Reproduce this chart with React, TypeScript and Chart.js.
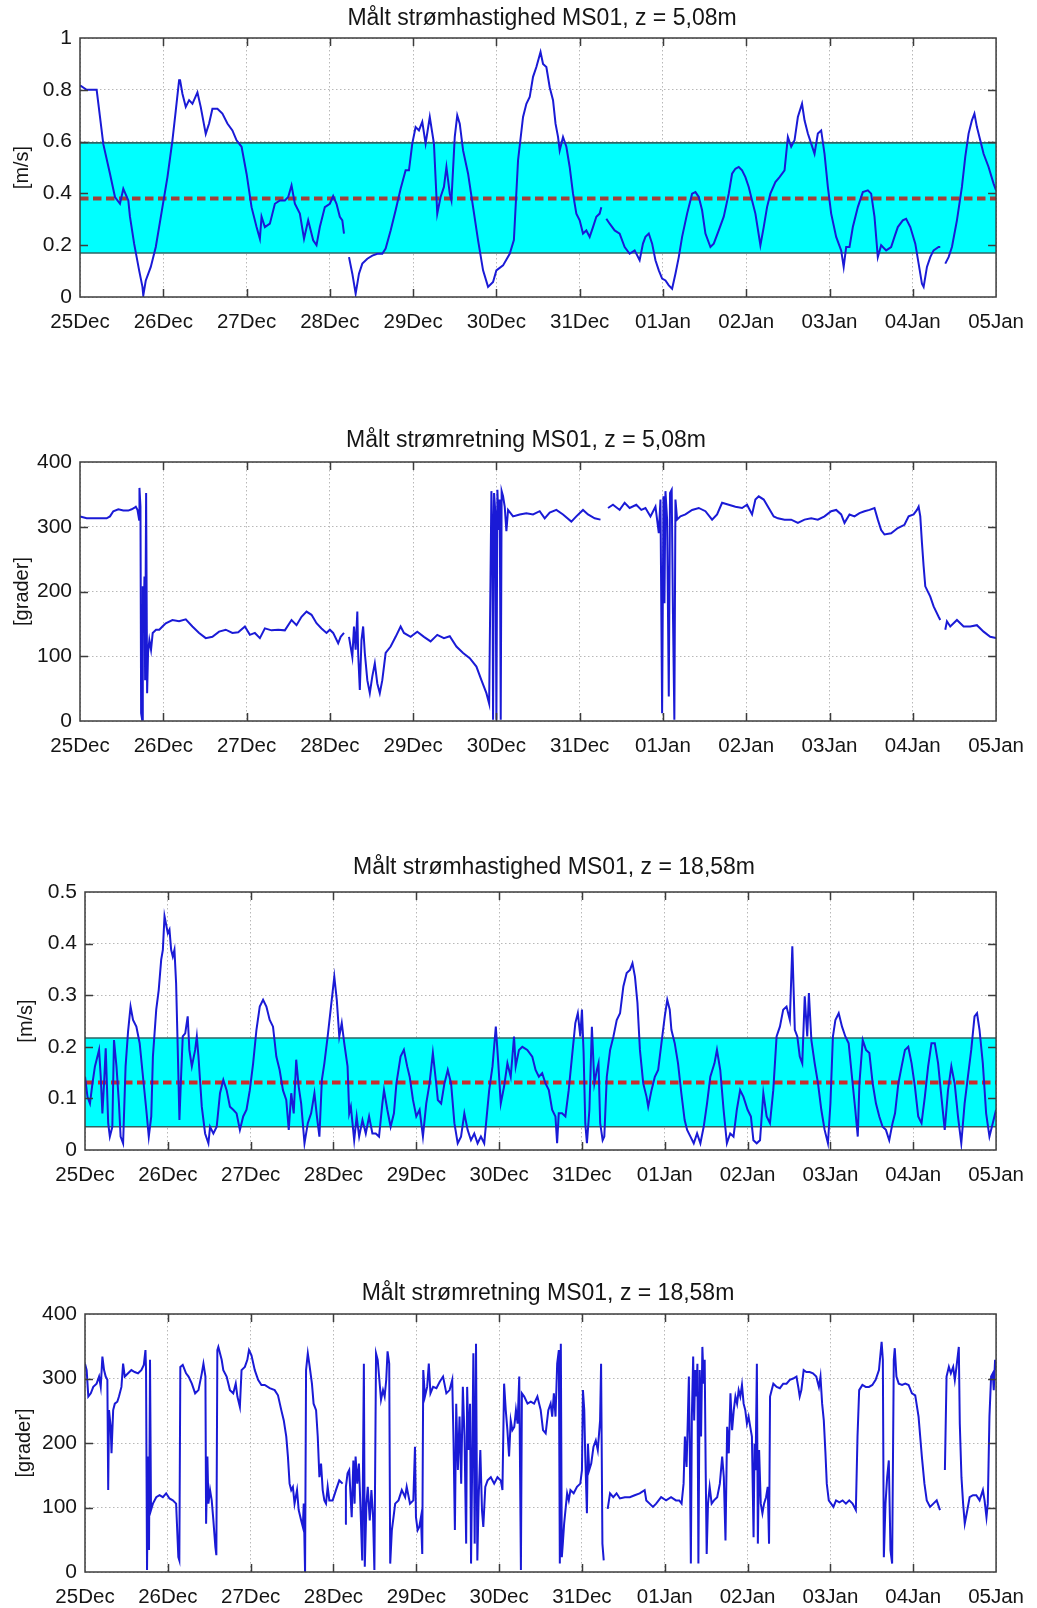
import React, { useEffect, useRef } from "react";
import { Chart, registerables } from "chart.js";

Chart.register(...registerables);

const FONT = '"Liberation Sans", Arial, Helvetica, sans-serif';

const dayLabels = ["25Dec", "26Dec", "27Dec", "28Dec", "29Dec", "30Dec", "31Dec", "01Jan", "02Jan", "03Jan", "04Jan", "05Jan"];

// ---------- Panel 1: speed, z = 5,08m ----------
const title1 = "Målt strømhastighed MS01, z = 5,08m";
const speedTopDays = [
  0, 0.08, 0.2, 0.24, 0.28, 0.36, 0.42, 0.48, 0.52, 0.58, 0.6, 0.65, 0.71, 0.75, 0.76, 0.79, 0.85, 0.91, 0.99,
  1.05, 1.11, 1.15, 1.19, 1.2, 1.23, 1.27, 1.31, 1.35, 1.41, 1.45, 1.51, 1.55, 1.59, 1.65, 1.71, 1.77, 1.83, 1.88, 1.94,
  2.0, 2.06, 2.12, 2.16, 2.18, 2.22, 2.28, 2.34, 2.4, 2.46, 2.5, 2.54, 2.58, 2.64, 2.69, 2.74, 2.8, 2.84, 2.88, 2.94,
  3.0, 3.04, 3.08, 3.12, 3.15, 3.17, 3.2, 3.23, 3.27, 3.31, 3.35, 3.39, 3.45, 3.51, 3.57, 3.63, 3.67, 3.73, 3.79, 3.85, 3.91, 3.95, 3.99,
  4.03, 4.07, 4.11, 4.15, 4.2, 4.25, 4.29, 4.33, 4.37, 4.4, 4.44, 4.46, 4.5, 4.53, 4.56, 4.6, 4.66, 4.72, 4.78, 4.84, 4.9, 4.96,
  5.0, 5.08, 5.16, 5.21, 5.26, 5.32, 5.36, 5.4, 5.44, 5.48, 5.53, 5.56, 5.6, 5.64, 5.68, 5.71, 5.74, 5.76, 5.8, 5.84, 5.88, 5.92, 5.96,
  6.0, 6.04, 6.08, 6.12, 6.16, 6.2, 6.24, 6.26, 6.29, 6.32, 6.36, 6.42, 6.48, 6.54, 6.6, 6.66, 6.72, 6.76, 6.79, 6.83, 6.87, 6.91, 6.95, 6.99,
  7.03, 7.07, 7.11, 7.15, 7.19, 7.23, 7.29, 7.35, 7.39, 7.43, 7.47, 7.51, 7.57, 7.61, 7.67, 7.73, 7.79, 7.83, 7.87, 7.91, 7.95, 7.99,
  8.03, 8.07, 8.11, 8.17, 8.21, 8.25, 8.29, 8.35, 8.4, 8.46, 8.5, 8.54, 8.58, 8.62, 8.67, 8.7, 8.74, 8.78, 8.82, 8.86, 8.9, 8.94, 8.98,
  9.02, 9.08, 9.14, 9.17, 9.2, 9.24, 9.28, 9.34, 9.4, 9.46, 9.5, 9.54, 9.58, 9.62, 9.68, 9.74, 9.78, 9.82, 9.88, 9.92, 9.97,
  10.03, 10.07, 10.11, 10.13, 10.17, 10.21, 10.25, 10.31, 10.33, 10.36, 10.39, 10.43, 10.47, 10.53, 10.59, 10.63, 10.67, 10.71, 10.74, 10.77, 10.81, 10.85, 10.91, 10.97, 11.0,
];
const speedTopVals = [
  0.817, 0.8, 0.8, 0.695, 0.59, 0.476, 0.386, 0.36, 0.418, 0.373, 0.31, 0.206, 0.103, 0.039, 0.006, 0.064, 0.116, 0.193, 0.347,
  0.463, 0.605, 0.72, 0.837, 0.84, 0.785, 0.734, 0.76, 0.746, 0.79, 0.733, 0.63, 0.67, 0.727, 0.727, 0.708, 0.67, 0.643, 0.605, 0.58,
  0.476, 0.347, 0.27, 0.225, 0.31, 0.27, 0.283, 0.36, 0.373, 0.373, 0.386, 0.431, 0.36, 0.322, 0.225, 0.296, 0.219, 0.2, 0.27, 0.347,
  0.36, 0.39, 0.36, 0.31, 0.296, 0.245, null, 0.154, 0.09, 0.013, 0.09, 0.129, 0.148, 0.16, 0.167, 0.167, 0.187, 0.257, 0.335, 0.418, 0.489, 0.489, 0.592,
  0.656, 0.643, 0.676, 0.592, 0.695, 0.592, 0.322, 0.386, 0.425, 0.502, 0.399, 0.373, 0.618, 0.701, 0.669, 0.566, 0.476, 0.347, 0.219, 0.103, 0.039, 0.058,
  0.103, 0.122, 0.167, 0.22, 0.528, 0.695, 0.746, 0.772, 0.85, 0.888, 0.946, 0.9, 0.888, 0.81, 0.76, 0.669, 0.618, 0.566, 0.618, 0.58, 0.502, 0.399, 0.322,
  0.296, 0.245, 0.257, 0.232, 0.27, 0.31, 0.322, 0.347, null, 0.302, 0.283, 0.257, 0.245, 0.193, 0.167, 0.18, 0.142, 0.206, 0.232, 0.245, 0.206, 0.142, 0.103, 0.071,
  0.064, 0.045, 0.032, 0.09, 0.154, 0.232, 0.322, 0.399, 0.405, 0.386, 0.335, 0.245, 0.193, 0.206, 0.257, 0.31, 0.399, 0.476, 0.495, 0.502, 0.489, 0.463,
  0.425, 0.373, 0.322, 0.2, 0.27, 0.347, 0.399, 0.444, 0.463, 0.489, 0.618, 0.58, 0.605, 0.695, 0.746, 0.682, 0.631, 0.592, 0.553, 0.631, 0.643, 0.553, 0.425,
  0.322, 0.232, 0.18, 0.116, 0.193, 0.193, 0.27, 0.347, 0.405, 0.412, 0.399, 0.31, 0.154, 0.2, 0.18, 0.193, 0.232, 0.27, 0.296, 0.302, 0.27,
  0.206, 0.129, 0.051, 0.039, 0.116, 0.154, 0.18, 0.193, 0.193, null, 0.129, 0.154, 0.193, 0.296, 0.425, 0.541, 0.631, 0.682, 0.708, 0.656, 0.605, 0.553, 0.502, 0.438, 0.412,
];
const speedTopBand = [0.17, 0.595];
const speedTopMean = 0.38;

// ---------- Panel 2: direction, z = 5,08m ----------
const title2 = "Målt strømretning MS01, z = 5,08m";
const dirTopDays = [
  0, 0.08, 0.2, 0.32, 0.36, 0.4, 0.46, 0.52, 0.58, 0.62, 0.65, 0.67, 0.69, 0.71, 0.714, 0.726, 0.734, 0.746, 0.754, 0.766, 0.774, 0.782, 0.794, 0.806, 0.817, 0.833, 0.853, 0.873, 0.913, 0.952, 0.99,
  1.03, 1.11, 1.19, 1.27, 1.35, 1.43, 1.51, 1.59, 1.67, 1.75, 1.83, 1.9, 1.98, 2.04, 2.1, 2.16, 2.22, 2.3, 2.38, 2.46, 2.54, 2.6, 2.66, 2.72, 2.78, 2.84, 2.9, 2.96,
  3.0, 3.04, 3.1, 3.13, 3.17, 3.2, 3.23, 3.27, 3.29, 3.31, 3.33, 3.34, 3.36, 3.38, 3.4, 3.42, 3.45, 3.48, 3.51, 3.54, 3.57, 3.6, 3.63, 3.67, 3.73, 3.79, 3.85, 3.89, 3.97,
  4.05, 4.13, 4.21, 4.29, 4.37, 4.44, 4.52, 4.6, 4.68, 4.76, 4.82, 4.88, 4.913, 4.929, 4.94, 4.952, 4.96, 4.972, 4.988,
  5.0, 5.012, 5.028, 5.04, 5.052, 5.063, 5.08, 5.1, 5.12, 5.14, 5.2, 5.28, 5.36, 5.44, 5.52, 5.58, 5.64, 5.72, 5.8, 5.9, 5.96,
  6.04, 6.1, 6.18, 6.25, 6.3, 6.34, 6.4, 6.48, 6.54, 6.6, 6.68, 6.74, 6.79, 6.85, 6.91, 6.95, 6.97, 6.99,
  7.006, 7.018, 7.03, 7.05, 7.07, 7.085, 7.105, 7.12, 7.137, 7.15, 7.17, 7.21, 7.27, 7.35, 7.43, 7.51, 7.59, 7.65, 7.71, 7.79, 7.87, 7.95,
  8.01, 8.07, 8.11, 8.15, 8.21, 8.27, 8.33, 8.38, 8.46, 8.54, 8.62, 8.7, 8.78, 8.86, 8.94,
  9.02, 9.08, 9.14, 9.18, 9.24, 9.3, 9.36, 9.42, 9.48, 9.54, 9.58, 9.62, 9.66, 9.74, 9.82, 9.9, 9.95,
  10.01, 10.05, 10.07, 10.09, 10.11, 10.13, 10.15, 10.21, 10.25, 10.31, 10.33, 10.36, 10.39, 10.41, 10.45, 10.53, 10.61, 10.69, 10.77, 10.85, 10.93, 11.0,
];
const dirTopVals = [
  316, 313, 313, 313, 316, 324, 327, 325, 325, 327, 329, 331, 326, 311, 360, 331, 12, 2, 208, 156, 223, 63, 352, 43, 105, 125, 110, 136, 141, 141, 146,
  151, 156, 154, 157, 146, 136, 128, 130, 138, 141, 136, 137, 146, 133, 136, 128, 143, 140, 141, 140, 156, 148, 161, 169, 164, 151, 143, 136,
  141, 136, 120, 130, 136, null, 130, 99, 146, 110, 169, 105, 48, 125, 146, 105, 63, 43, 69, 89, 58, 43, 63, 105, 115, 130, 146, 136, 130,
  138, 130, 123, 133, 128, 131, 115, 105, 97, 84, 63, 43, 27, 218, 355, 290, 2, 352, 321,
  2, 357, 295, 342, 2, 355, 347, 331, 293, 326, 316, 319, 321, 319, 324, 313, 322, 326, 319, 308, 316,
  326, 319, 313, 311, null, 329, 334, 326, 337, 329, 334, 326, 329, 316, 331, 290, 342, 12,
  347, 182, 355, 311, 38, 352, 357, 167, 2, 342, 311, 316, 319, 326, 329, 324, 311, 319, 337, 334, 331, 329,
  334, 319, 342, 347, 342, 329, 316, 313, 311, 311, 306, 311, 313, 311, 316,
  324, 326, 319, 306, 319, 316, 321, 324, 326, 329, 311, 295, 288, 290, 298, 303, 316,
  319, 326, 331, 316, 275, 239, 208, 192, 177, 161, 156, null, 141, 154, 146, 156, 146, 146, 148, 138, 130, 128,
];

// ---------- Panel 3: speed, z = 18,58m ----------
const title3 = "Målt strømhastighed MS01, z = 18,58m";
const speedBotDays = [
  0, 0.03, 0.06, 0.09, 0.12, 0.15, 0.17, 0.19, 0.21, 0.23, 0.25, 0.28, 0.3, 0.33, 0.35, 0.38, 0.41, 0.43, 0.46, 0.49, 0.52, 0.55, 0.58, 0.62, 0.66, 0.7, 0.74, 0.77, 0.8, 0.82, 0.86, 0.89, 0.92, 0.94, 0.96,
  1.0, 1.02, 1.04, 1.06, 1.08, 1.1, 1.12, 1.14, 1.16, 1.18, 1.21, 1.24, 1.26, 1.29, 1.33, 1.35, 1.37, 1.41, 1.45, 1.49, 1.51, 1.55, 1.59, 1.63, 1.67, 1.71, 1.75, 1.79, 1.83, 1.87, 1.91, 1.95, 1.99,
  2.03, 2.07, 2.11, 2.15, 2.19, 2.23, 2.27, 2.31, 2.35, 2.39, 2.43, 2.46, 2.49, 2.52, 2.55, 2.58, 2.61, 2.65, 2.69, 2.73, 2.77, 2.8, 2.83, 2.86, 2.89, 2.93, 2.97,
  3.01, 3.04, 3.07, 3.1, 3.13, 3.17, 3.19, 3.21, 3.25, 3.28, 3.31, 3.35, 3.39, 3.43, 3.47, 3.51, 3.55, 3.59, 3.61, 3.65, 3.69, 3.73, 3.76, 3.81, 3.85, 3.89, 3.92, 3.96,
  4.0, 4.04, 4.08, 4.12, 4.16, 4.2, 4.24, 4.26, 4.3, 4.34, 4.38, 4.42, 4.46, 4.5, 4.54, 4.58, 4.62, 4.66, 4.7, 4.74, 4.78, 4.82, 4.85, 4.88, 4.92, 4.96, 4.99,
  5.02, 5.06, 5.1, 5.14, 5.18, 5.2, 5.24, 5.28, 5.34, 5.4, 5.44, 5.48, 5.52, 5.56, 5.6, 5.64, 5.68, 5.7, 5.72, 5.76, 5.8, 5.84, 5.88, 5.92, 5.95, 5.98,
  6.0, 6.02, 6.04, 6.06, 6.09, 6.12, 6.15, 6.18, 6.2, 6.22, 6.25, 6.27, 6.3, 6.34, 6.38, 6.42, 6.46, 6.5, 6.54, 6.58, 6.61, 6.64, 6.67, 6.7, 6.74, 6.78, 6.8, 6.84, 6.88, 6.92, 6.96,
  7.0, 7.03, 7.06, 7.08, 7.12, 7.16, 7.2, 7.24, 7.27, 7.31, 7.35, 7.39, 7.43, 7.47, 7.51, 7.55, 7.6, 7.63, 7.67, 7.71, 7.75, 7.79, 7.83, 7.87, 7.91, 7.95,
  8.0, 8.04, 8.07, 8.11, 8.15, 8.19, 8.23, 8.27, 8.31, 8.35, 8.39, 8.43, 8.47, 8.51, 8.54, 8.57, 8.6, 8.63, 8.66, 8.69, 8.72, 8.74, 8.77, 8.81, 8.85, 8.89, 8.93, 8.97,
  9.0, 9.03, 9.06, 9.1, 9.14, 9.18, 9.22, 9.26, 9.3, 9.33, 9.35, 9.39, 9.43, 9.47, 9.51, 9.55, 9.59, 9.63, 9.67, 9.71, 9.75, 9.78, 9.82, 9.86, 9.9, 9.94, 9.98,
  10.02, 10.06, 10.1, 10.14, 10.18, 10.22, 10.26, 10.3, 10.34, 10.38, 10.42, 10.46, 10.5, 10.54, 10.58, 10.62, 10.66, 10.7, 10.74, 10.77, 10.8, 10.84, 10.88, 10.92, 10.96, 11.0,
];
const speedBotVals = [
  0.142, 0.103, 0.09, 0.129, 0.162, 0.181, 0.194, 0.142, 0.071, 0.129, 0.197, 0.052, 0.026, 0.045, 0.213, 0.162, 0.09, 0.026, 0.013, 0.162, 0.23, 0.278, 0.252, 0.239, 0.207, 0.142, 0.078, 0.026, 0.065, 0.181, 0.272, 0.31, 0.369, 0.388, 0.453,
  0.42, 0.427, 0.388, 0.375, 0.388, 0.323, 0.194, 0.058, 0.142, 0.22, 0.226, 0.259, 0.194, 0.162, 0.194, 0.22, 0.181, 0.084, 0.032, 0.013, 0.045, 0.032, 0.045, 0.11, 0.136, 0.116, 0.084, 0.078, 0.071, 0.039, 0.065, 0.078, 0.116,
  0.168, 0.233, 0.278, 0.291, 0.278, 0.252, 0.239, 0.181, 0.155, 0.116, 0.097, 0.039, 0.11, 0.071, 0.175, 0.123, 0.09, 0.013, 0.052, 0.071, 0.11, 0.065, 0.026, 0.136, 0.168, 0.22, 0.278,
  0.336, 0.291, 0.22, 0.246, 0.207, 0.162, 0.071, 0.084, 0.019, 0.065, 0.026, 0.058, 0.032, 0.065, 0.032, 0.032, 0.026, 0.09, 0.116, 0.078, 0.045, 0.071, 0.129, 0.181, 0.194, 0.162, 0.142, 0.097,
  0.065, 0.078, 0.026, 0.09, 0.129, 0.188, 0.129, 0.097, 0.09, 0.129, 0.155, 0.129, 0.052, 0.013, 0.026, 0.071, 0.039, 0.019, 0.032, 0.013, 0.026, 0.013, 0.065, 0.116, 0.162, 0.239, 0.168,
  0.09, 0.123, 0.168, 0.142, 0.22, 0.162, 0.194, 0.2, 0.194, 0.181, 0.155, 0.142, 0.149, 0.129, 0.116, 0.078, 0.065, 0.013, 0.071, 0.071, 0.065, 0.116, 0.181, 0.246, 0.265, 0.22,
  0.272, 0.188, 0.052, 0.013, 0.078, 0.239, 0.129, 0.155, 0.168, 0.052, 0.019, 0.026, 0.142, 0.194, 0.22, 0.252, 0.265, 0.317, 0.343, 0.349, 0.362, 0.336, 0.285, 0.194, 0.129, 0.103, 0.084, 0.116, 0.142, 0.155, 0.207,
  0.259, 0.291, 0.272, 0.233, 0.207, 0.168, 0.11, 0.058, 0.039, 0.026, 0.013, 0.032, 0.013, 0.045, 0.09, 0.142, 0.168, 0.194, 0.155, 0.078, 0.013, 0.032, 0.026, 0.078, 0.116, 0.103,
  0.078, 0.065, 0.019, 0.013, 0.019, 0.11, 0.065, 0.052, 0.116, 0.22, 0.239, 0.272, 0.278, 0.252, 0.395, 0.233, 0.22, 0.181, 0.168, 0.298, 0.22, 0.304, 0.213, 0.168, 0.129, 0.078, 0.039, 0.013,
  0.09, 0.22, 0.252, 0.265, 0.239, 0.22, 0.207, 0.142, 0.078, 0.026, 0.129, 0.213, 0.194, 0.188, 0.129, 0.09, 0.065, 0.045, 0.039, 0.019, 0.052, 0.071, 0.129, 0.162, 0.194, 0.2, 0.168,
  0.123, 0.065, 0.052, 0.103, 0.162, 0.207, 0.207, 0.168, 0.103, 0.039, 0.116, 0.162, 0.129, 0.065, 0.013, 0.09, 0.142, 0.194, 0.259, 0.265, 0.233, 0.168, 0.071, 0.026, 0.052, 0.078,
];
const speedBotBand = [0.045, 0.217];
const speedBotMean = 0.131;

// ---------- Panel 4: direction, z = 18,58m ----------
const title4 = "Målt strømretning MS01, z = 18,58m";
const dirBotDays = [
  0, 0.02, 0.04, 0.07, 0.1, 0.14, 0.17, 0.19, 0.21, 0.23, 0.25, 0.27, 0.28, 0.29, 0.31, 0.32, 0.34, 0.36, 0.39, 0.41, 0.44, 0.46, 0.48, 0.52, 0.56, 0.6, 0.64, 0.68, 0.71, 0.73, 0.737, 0.749, 0.761, 0.773, 0.785, 0.797, 0.82, 0.86, 0.9, 0.94, 0.98,
  1.02, 1.06, 1.1, 1.127, 1.139, 1.151, 1.18, 1.22, 1.25, 1.29, 1.33, 1.37, 1.41, 1.43, 1.454, 1.462, 1.478, 1.49, 1.51, 1.53, 1.55, 1.574, 1.586, 1.598, 1.61, 1.65, 1.67, 1.71, 1.75, 1.79, 1.82, 1.84, 1.87, 1.89, 1.93, 1.96, 1.98,
  2.01, 2.05, 2.09, 2.13, 2.17, 2.23, 2.29, 2.33, 2.37, 2.4, 2.43, 2.45, 2.47, 2.49, 2.51, 2.53, 2.56, 2.58, 2.61, 2.63, 2.641, 2.657, 2.669, 2.69, 2.71, 2.74, 2.76, 2.79, 2.81, 2.83, 2.85, 2.87, 2.89, 2.91, 2.93, 2.95, 2.99,
  3.03, 3.07, 3.11, 3.13, 3.14, 3.15, 3.17, 3.19, 3.22, 3.24, 3.255, 3.267, 3.287, 3.307, 3.327, 3.347, 3.367, 3.378, 3.398, 3.414, 3.438, 3.458, 3.478, 3.494, 3.514, 3.534, 3.554, 3.574, 3.598, 3.618, 3.637, 3.653, 3.673, 3.685, 3.705, 3.725, 3.745, 3.785, 3.825, 3.865, 3.884, 3.924, 3.964, 3.984, 3.996,
  4.016, 4.036, 4.056, 4.072, 4.084, 4.104, 4.131, 4.151, 4.171, 4.203, 4.243, 4.283, 4.323, 4.363, 4.402, 4.434, 4.45, 4.466, 4.482, 4.502, 4.522, 4.542, 4.562, 4.582, 4.602, 4.614, 4.633, 4.649, 4.661, 4.673, 4.689, 4.705, 4.721, 4.737, 4.753, 4.773, 4.793, 4.809, 4.833, 4.861, 4.9, 4.94, 4.98,
  5.02, 5.04, 5.06, 5.08, 5.1, 5.12, 5.14, 5.16, 5.183, 5.203, 5.223, 5.243, 5.263, 5.275, 5.303, 5.343, 5.382, 5.422, 5.462, 5.502, 5.53, 5.562, 5.594, 5.622, 5.641, 5.661, 5.681, 5.701, 5.721, 5.733, 5.745, 5.757, 5.769, 5.785, 5.801, 5.821, 5.841, 5.861, 5.9, 5.94, 5.98,
  6.0, 6.012, 6.028, 6.04, 6.06, 6.072, 6.088, 6.112, 6.139, 6.167, 6.191, 6.219, 6.231, 6.247, 6.263, 6.29, 6.311, 6.339, 6.378, 6.418, 6.458, 6.518, 6.578, 6.637, 6.697, 6.757, 6.777, 6.817, 6.857, 6.896, 6.956,
  7.016, 7.076, 7.135, 7.175, 7.203, 7.227, 7.243, 7.263, 7.279, 7.291, 7.303, 7.315, 7.327, 7.343, 7.355, 7.367, 7.382, 7.394, 7.406, 7.422, 7.438, 7.454, 7.47, 7.482, 7.494, 7.506, 7.522, 7.542, 7.566, 7.594, 7.633, 7.665, 7.693, 7.713, 7.733, 7.753, 7.773, 7.793, 7.813, 7.833, 7.853, 7.873, 7.892, 7.912, 7.932, 7.952, 7.972, 7.992,
  8.012, 8.032, 8.052, 8.072, 8.084, 8.096, 8.112, 8.124, 8.139, 8.159, 8.179, 8.199, 8.223, 8.243, 8.259, 8.271, 8.291, 8.311, 8.351, 8.39, 8.43, 8.47, 8.51, 8.55, 8.59, 8.614, 8.629, 8.649, 8.677, 8.709, 8.749, 8.789, 8.829, 8.861, 8.88, 8.9, 8.92, 8.94, 8.956, 8.98,
  9.008, 9.036, 9.068, 9.108, 9.147, 9.187, 9.227, 9.267, 9.307, 9.327, 9.347, 9.386, 9.426, 9.466, 9.506, 9.546, 9.586, 9.618, 9.633, 9.645, 9.665, 9.685, 9.705, 9.725, 9.745, 9.765, 9.777, 9.797, 9.825, 9.865, 9.904, 9.944, 9.984,
  10.024, 10.064, 10.104, 10.135, 10.163, 10.203, 10.243, 10.283, 10.323, 10.35, 10.382, 10.402, 10.43, 10.454, 10.482, 10.502, 10.522, 10.55, 10.562, 10.582, 10.602, 10.622, 10.653, 10.681, 10.721, 10.761, 10.801, 10.841, 10.861, 10.884, 10.9, 10.92, 10.94, 10.96, 10.972, 10.988, 11.0,
];
const dirBotVals = [
  323, 313, 272, 277, 287, 292, 303, 287, 334, 313, 303, 298, 127, 251, 225, 184, 251, 261, 264, 272, 287, 323, 303, 308, 313, 310, 308, 313, 321, 344, 313, 3, 179, 34, 329, 96, 106, 116, 119, 116, 122,
  114, 111, 106, 23, 18, 318, 321, 308, 303, 292, 277, 282, 308, 323, 303, 75, 179, 106, 127, 111, 80, 39, 26, 344, 349, 329, 313, 303, 282, 277, 292, 272, 256, 313, 318, 329, 344,
  336, 313, 298, 290, 290, 285, 282, 274, 251, 235, 210, 179, 137, 127, 132, 106, 127, 96, 80, 70, 106, 0, 313, 339, 321, 292, 261, 251, 210, 147, 168, 127, 111, 106, 132, 111, 111,
  127, 142, 137, null, 75, 132, 153, 158, 85, 173, 106, 179, 137, 168, 96, 18, 323, 8, 106, 132, 80, 127, 85, 3, 339, 329, 298, 267, 282, 272, 298, 342, 323, 13, 65, 85, 106, 111, 127, 116, 132, 106, 111, 194, 85,
  65, 70, 85, 28, 313, 272, 287, 323, 277, 287, 285, 295, 303, 277, 282, 298, 199, 65, 261, 158, 241, 137, 287, 210, 44, 287, 189, 261, 13, 147, 339, 44, 354, 18, 116, 189, 96, 70, 132, 142, 147, 137, 147,
  142, 127, 292, 251, 220, 179, 235, 220, 225, 251, 230, 303, 3, 277, 272, 261, 264, 261, 272, 251, 220, 215, 251, 261, 241, 277, 241, 323, 344, 13, 354, 23, 44, 75, 96, 122, 111, 127, 122, 132, 137,
  158, 282, 251, 179, 91, 199, 158, 168, 194, 204, 189, 235, 323, 44, 18, null, 98, 122, 116, 122, 114, 116, 116, 119, 122, 127, 111, 106, 101, 106, 116,
  111, 116, 111, 111, 106, 137, 210, 163, 241, 303, 179, 13, 241, 334, 235, 313, 272, 323, 13, 313, 210, 349, 292, 329, 158, 28, 106, 132, 106, 111, 116, 137, 179, 147, 49, 225, 184, 277, 220, 251, 272, 261, 282, 272, 290, 261, 251, 230,
  241, 225, 210, 54, 199, 158, 323, 44, 189, 106, 91, 106, 116, 132, 44, 272, 282, 292, 287, 285, 292, 292, 298, 300, 303, 285, 272, 282, 313, 310, 310, 308, 303, 287, 303, 261, 235, 184, 137, 111,
  106, 101, 111, 108, 111, 106, 111, 106, 96, 210, 282, 290, 287, 287, 290, 298, 313, 357, 329, 23, 106, 147, 173, 34, 13, 329, 347, 303, 292, 290, 292, 290, 277,
  274, 241, 179, 137, 111, 101, 106, 111, 96, null, 158, 303, 318, 308, 318, 298, 318, 349, 230, 147, 106, 75, 96, 116, 119, 119, 111, 127, 111, 85, 106, 241, 303, 308, 282, 329, 313,
];

interface PanelSpec {
  title: string;
  yLabel: string;
  yMax: number;
  yStep: number;
  days: number[];
  vals: (number | null)[];
  band?: number[];
  mean?: number;
  meanColor?: string;
  plotTop: number;
  plotLeft: number;
  plotRight: number;
  plotH: number;
  titleX: number;
  titleDy: number;
  yTitlePad: number;
}

const TOP_PAD = 40;
const BOTTOM_H = 34;
const PAGE_W = 1037;

const panels: PanelSpec[] = [
  { title: title1, yLabel: "[m/s]", yMax: 1, yStep: 0.2, days: speedTopDays, vals: speedTopVals, band: speedTopBand, mean: speedTopMean, meanColor: "#a2403a", plotTop: 38, plotLeft: 80, plotRight: 1003, plotH: 259, titleX: 542, titleDy: 19, yTitlePad: 10 },
  { title: title2, yLabel: "[grader]", yMax: 400, yStep: 100, days: dirTopDays, vals: dirTopVals, plotTop: 462, plotLeft: 80, plotRight: 1003, plotH: 259, titleX: 526, titleDy: 21, yTitlePad: 10 },
  { title: title3, yLabel: "[m/s]", yMax: 0.5, yStep: 0.1, days: speedBotDays, vals: speedBotVals, band: speedBotBand, mean: speedBotMean, meanColor: "#cc2b2b", plotTop: 892, plotLeft: 85, plotRight: 1005, plotH: 258, titleX: 554, titleDy: 24, yTitlePad: 14 },
  { title: title4, yLabel: "[grader]", yMax: 400, yStep: 100, days: dirBotDays, vals: dirBotVals, plotTop: 1314, plotLeft: 85, plotRight: 1005, plotH: 258, titleX: 548, titleDy: 20, yTitlePad: 12 },
];

function Panel({ spec }: { spec: PanelSpec }) {
  const ref = useRef<HTMLCanvasElement>(null);
  const canvasH = TOP_PAD + spec.plotH + BOTTOM_H;

  useEffect(() => {
    if (!ref.current) return;
    const series = spec.days.map((d, i) => ({ x: d, y: spec.vals[i] }));
    const datasets: any[] = [
      {
        data: series,
        borderColor: "#1a1ad6",
        borderWidth: 2,
        pointRadius: 0,
        fill: false,
        tension: 0,
        spanGaps: false,
        order: 0,
      },
    ];
    if (spec.mean !== undefined) {
      datasets.push({
        data: [{ x: 0, y: spec.mean }, { x: 11, y: spec.mean }],
        borderColor: spec.meanColor,
        borderWidth: 4,
        borderDash: [8.5, 4.5],
        pointRadius: 0,
        fill: false,
        order: 1,
      });
    }
    if (spec.band) {
      datasets.push({
        data: [{ x: 0, y: spec.band[0] }, { x: 11, y: spec.band[0] }],
        borderColor: "#2e6464",
        borderWidth: 1.6,
        pointRadius: 0,
        fill: false,
        order: 2,
      });
      datasets.push({
        data: [{ x: 0, y: spec.band[1] }, { x: 11, y: spec.band[1] }],
        borderColor: "#2e6464",
        borderWidth: 1.6,
        pointRadius: 0,
        fill: "-1",
        backgroundColor: "#00ffff",
        order: 3,
      });
    }

    const frame = {
      id: "frame",
      afterDraw(chart: any) {
        const { ctx, chartArea: a, scales } = chart;
        const xs = scales.x;
        const ys = scales.y;
        ctx.save();
        ctx.strokeStyle = "#3c3c3c";
        ctx.lineWidth = 1.5;
        ctx.beginPath();
        xs.ticks.forEach((t: any) => {
          const px = Math.round(xs.getPixelForValue(t.value)) + 0.5;
          if (px > a.left + 2 && px < a.right - 2) {
            ctx.moveTo(px, a.bottom);
            ctx.lineTo(px, a.bottom - 8);
            ctx.moveTo(px, a.top);
            ctx.lineTo(px, a.top + 8);
          }
        });
        ys.ticks.forEach((t: any) => {
          const py = Math.round(ys.getPixelForValue(t.value)) + 0.5;
          if (py > a.top + 2 && py < a.bottom - 2) {
            ctx.moveTo(a.left, py);
            ctx.lineTo(a.left + 8, py);
            ctx.moveTo(a.right, py);
            ctx.lineTo(a.right - 8, py);
          }
        });
        ctx.stroke();
        ctx.strokeRect(a.left, a.top, a.right - a.left, a.bottom - a.top);
        ctx.fillStyle = "#151515";
        ctx.font = `23px ${FONT}`;
        ctx.textAlign = "center";
        ctx.textBaseline = "middle";
        ctx.fillText(spec.title, spec.titleX, a.top - spec.titleDy);
        ctx.restore();
      },
    };

    const chart = new Chart(ref.current, {
      type: "line",
      data: { datasets },
      plugins: [frame],
      options: {
        animation: false,
        responsive: false,
        devicePixelRatio: 1,
        layout: { padding: { top: TOP_PAD, right: PAGE_W - spec.plotRight, left: 0, bottom: 0 } },
        plugins: { legend: { display: false }, tooltip: { enabled: false }, title: { display: false } },
        scales: {
          x: {
            type: "linear",
            min: 0,
            max: 11,
            afterFit: (s: any) => {
              s.height = canvasH - TOP_PAD - spec.plotH;
            },
            ticks: {
              stepSize: 1,
              autoSkip: false,
              maxRotation: 0,
              padding: 13,
              color: "#151515",
              font: { family: FONT, size: 20.5 },
              callback: (v: any) => dayLabels[Math.round(Number(v))] ?? "",
            },
            grid: { color: "#b8b8b8", lineWidth: 1, drawTicks: false },
            border: { display: false, dash: [1.5, 2.5] },
          },
          y: {
            type: "linear",
            min: 0,
            max: spec.yMax,
            afterFit: (s: any) => {
              s.width = spec.plotLeft;
            },
            ticks: {
              stepSize: spec.yStep,
              padding: 8,
              color: "#151515",
              font: { family: FONT, size: 21 },
              callback: (v: any) => String(Math.round(Number(v) * 1000) / 1000),
            },
            grid: { color: "#b8b8b8", lineWidth: 1, drawTicks: false },
            border: { display: false, dash: [1.5, 2.5] },
            title: {
              display: true,
              text: spec.yLabel,
              color: "#151515",
              font: { family: FONT, size: 20 },
              padding: { top: spec.yTitlePad, bottom: 0 },
            },
          },
        },
      } as any,
    });
    return () => chart.destroy();
  }, [spec, canvasH]);

  return (
    <canvas
      ref={ref}
      width={PAGE_W}
      height={canvasH}
      style={{ position: "absolute", left: 0, top: spec.plotTop - TOP_PAD, width: PAGE_W, height: canvasH }}
    />
  );
}

export default function App() {
  return (
    <div style={{ position: "absolute", left: 0, top: 0, width: PAGE_W, height: 1608, background: "#ffffff", overflow: "hidden" }}>
      {panels.map((p, i) => (
        <Panel key={i} spec={p} />
      ))}
    </div>
  );
}
